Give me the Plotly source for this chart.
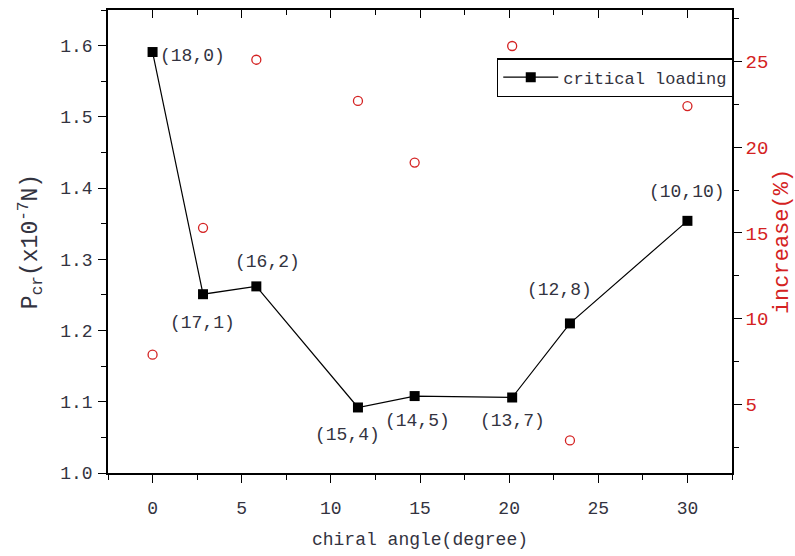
import plotly.graph_objects as go

# Chiral angle of each (n,m) tube, in degrees
chiral_angle = [0.0, 2.83, 5.82, 11.52, 14.70, 20.17, 23.41, 30.0]
chirality = ["(18,0)", "(17,1)", "(16,2)", "(15,4)", "(14,5)", "(13,7)", "(12,8)", "(10,10)"]
# Critical loading P_cr in units of 1e-7 N
critical_loading = [1.591, 1.251, 1.262, 1.092, 1.108, 1.106, 1.210, 1.354]
# Increase in percent (right axis)
increase_pct = [7.9, 15.3, 25.1, 22.7, 19.1, 25.9, 2.9, 22.4]

x_ticks = [0, 5, 10, 15, 20, 25, 30]
left_ticks = [1.0, 1.1, 1.2, 1.3, 1.4, 1.5, 1.6]
right_ticks = [5, 10, 15, 20, 25]

FONT = "Liberation Mono"
TXT = "#333340"
RED = "#d42222"

fig = go.Figure()

fig.add_trace(go.Scatter(
    x=chiral_angle, y=critical_loading, name="critical loading",
    mode="lines+markers",
    line=dict(color="black", width=1.2),
    marker=dict(symbol="square", size=10, color="black"),
))

fig.add_trace(go.Scatter(
    x=chiral_angle, y=increase_pct, yaxis="y2", showlegend=False,
    mode="markers",
    marker=dict(symbol="circle-open", size=9, color=RED, line=dict(width=1.3, color=RED)),
))

# empty trace so the top frame axis gets drawn
fig.add_trace(go.Scatter(x=[], y=[], xaxis="x2", yaxis="y", showlegend=False, hoverinfo="skip"))

# label offsets (px) for the chirality tags
label_shift = [(40, -4), (-1, -29), (11, 24), (-10, -28), (3, -25), (0, -23), (-10, 33), (0, 29)]
for xv, yv, lab, (dx, dy) in zip(chiral_angle, critical_loading, chirality, label_shift):
    fig.add_annotation(x=xv, y=yv, xref="x", yref="y", text=lab, showarrow=False,
                       xshift=dx, yshift=dy, font=dict(family=FONT, size=18, color=TXT))

xr = [-2.5, 32.5]
common_x = dict(range=xr, tickmode="array", tickvals=x_ticks, showgrid=False, zeroline=False,
                showline=True, linecolor="black", linewidth=1.5, tickcolor="black",
                tickwidth=1.3, ticklen=8, automargin=False)

fig.update_layout(
    width=795, height=556,
    margin=dict(l=108, r=63, t=10, b=83, autoexpand=False),
    paper_bgcolor="white", plot_bgcolor="white",
    font=dict(family=FONT, color=TXT),
    xaxis=dict(**common_x, ticks="outside", ticklabelstandoff=10,
               minor=dict(ticks="outside", dtick=2.5, ticklen=5, tickcolor="black", showgrid=False),
               tickfont=dict(family=FONT, size=18, color=TXT),
               title=dict(text="chiral angle(degree)", font=dict(family=FONT, size=18, color=TXT), standoff=14)),
    xaxis2=dict(**common_x, overlaying="x", side="top", anchor="y", ticks="inside",
                showticklabels=False,
                minor=dict(ticks="inside", dtick=2.5, ticklen=5, tickcolor="black", showgrid=False)),
    yaxis=dict(range=[1.0, 1.65], tickmode="array", tickvals=left_ticks, tickformat=".1f",
               showgrid=False, zeroline=False, showline=True, linecolor="black", linewidth=1.5,
               ticks="outside", ticklen=8, tickwidth=1.3, tickcolor="black", ticklabelstandoff=2,
               automargin=False,
               minor=dict(ticks="outside", dtick=0.05, ticklen=5, tickcolor="black", showgrid=False),
               tickfont=dict(family=FONT, size=18, color=TXT),
               title=dict(text="P<sub>cr</sub>(x10<sup>-7</sup>N)", font=dict(family=FONT, size=23, color=TXT),
                          standoff=16)),
    yaxis2=dict(range=[1, 28], overlaying="y", side="right", anchor="x", automargin=False,
                tickmode="array", tickvals=right_ticks,
                showgrid=False, zeroline=False, showline=True, linecolor="black", linewidth=1.5,
                ticks="outside", ticklen=8, tickwidth=1.3, tickcolor="black",
                minor=dict(ticks="outside", dtick=2.5, ticklen=5, tickcolor="black", showgrid=False),
                tickfont=dict(family=FONT, size=19, color=RED),
                title=dict(text="increase(%)", font=dict(family=FONT, size=22, color=RED), standoff=8)),
    legend=dict(x=0.623, y=0.896, xanchor="left", yanchor="top",
                bgcolor="white", bordercolor="black", borderwidth=1.5,
                itemwidth=55, font=dict(family=FONT, size=17, color=TXT)),
    showlegend=True,
)

fig.write_html("out.html")
